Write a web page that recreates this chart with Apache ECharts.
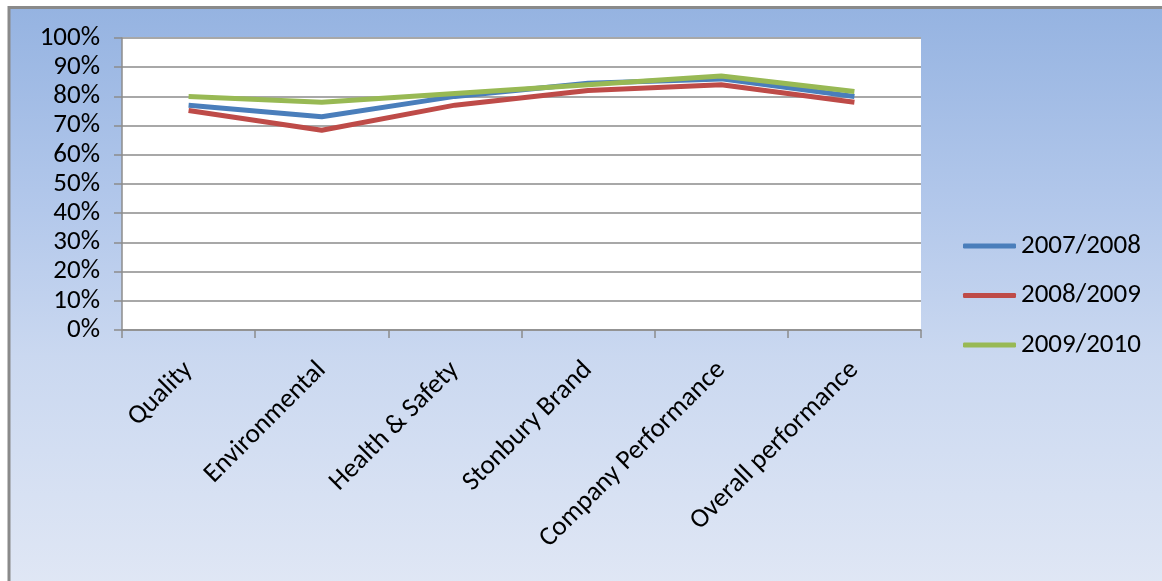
<!DOCTYPE html>
<html>
<head>
<meta charset="utf-8">
<script src="https://cdn.jsdelivr.net/npm/echarts@6/dist/echarts.min.js"></script>
<style>
html,body{margin:0;padding:0;background:#fff;}
#chart{width:1162px;height:581px;}
</style>
</head>
<body>
<div id="chart"></div>
<script>
const categories = ['Quality', 'Environmental', 'Health & Safety', 'Stonbury Brand', 'Company Performance', 'Overall performance'];
const seriesNames = ['2007/2008', '2008/2009', '2009/2010'];
const values2007_2008 = [77, 73, 80, 84.5, 86, 80];
const values2008_2009 = [75.2, 68.4, 77, 82, 84, 78];
const values2009_2010 = [80, 78, 81, 84, 87, 81.7];
const yTicks = [0, 10, 20, 30, 40, 50, 60, 70, 80, 90, 100];

const FONT = 'Carlito, Lato, "Open Sans", sans-serif';
const colors = ['#4a7ebb', '#be4b48', '#98b954'];
const allValues = [values2007_2008, values2008_2009, values2009_2010];

const chart = echarts.init(document.getElementById('chart'), null, {renderer: 'canvas'});
chart.setOption({
  animation: false,
  backgroundColor: '#ffffff',
  color: colors,
  graphic: [{
    type: 'rect',
    z: -10,
    silent: true,
    shape: {x: 9, y: 7.5, width: 1160, height: 580},
    style: {
      fill: new echarts.graphic.LinearGradient(0, 0, 0, 1, [
        {offset: 0, color: '#95b3e1'},
        {offset: 0.35, color: '#b3c8eb'},
        {offset: 0.6, color: '#cad8f0'},
        {offset: 1, color: '#e0e7f5'}
      ]),
      stroke: '#8a8a8a',
      lineWidth: 3
    }
  }],
  grid: {
    left: 122, top: 38, width: 799, height: 292,
    show: true, backgroundColor: '#ffffff', borderWidth: 0, containLabel: false
  },
  legend: {
    orient: 'vertical',
    left: 963, top: 230,
    padding: 0,
    itemWidth: 53, itemHeight: 5,
    itemGap: 17.5,
    icon: 'roundRect',
    data: seriesNames,
    textStyle: {fontFamily: FONT, fontSize: 27, color: '#000', lineHeight: 32, padding: [0, 0, 0, 0]}
  },
  xAxis: {
    type: 'category',
    data: categories,
    boundaryGap: true,
    axisLine: {show: true, lineStyle: {color: '#8c8c8c', width: 1.5}},
    axisTick: {show: true, length: 8, alignWithLabel: false, lineStyle: {color: '#8c8c8c', width: 1.5}},
    axisLabel: {rotate: 45, margin: 36, fontFamily: FONT, fontSize: 27, color: '#000', interval: 0}
  },
  yAxis: {
    type: 'value',
    min: yTicks[0], max: yTicks[yTicks.length - 1], interval: yTicks[1] - yTicks[0],
    axisLine: {show: true, lineStyle: {color: '#8c8c8c', width: 1.5}},
    axisTick: {show: true, length: 8, lineStyle: {color: '#8c8c8c', width: 1.5}},
    splitLine: {show: true, lineStyle: {color: '#a8a8a8', width: 2}},
    axisLabel: {formatter: '{value}%', margin: 22, fontFamily: FONT, fontSize: 27, color: '#000'}
  },
  series: seriesNames.map((name, i) => ({
    name: name,
    type: 'line',
    data: allValues[i],
    showSymbol: false,
    symbol: 'none',
    lineStyle: {width: 5, color: colors[i]},
    itemStyle: {color: colors[i]}
  }))
});
</script>
</body>
</html>
